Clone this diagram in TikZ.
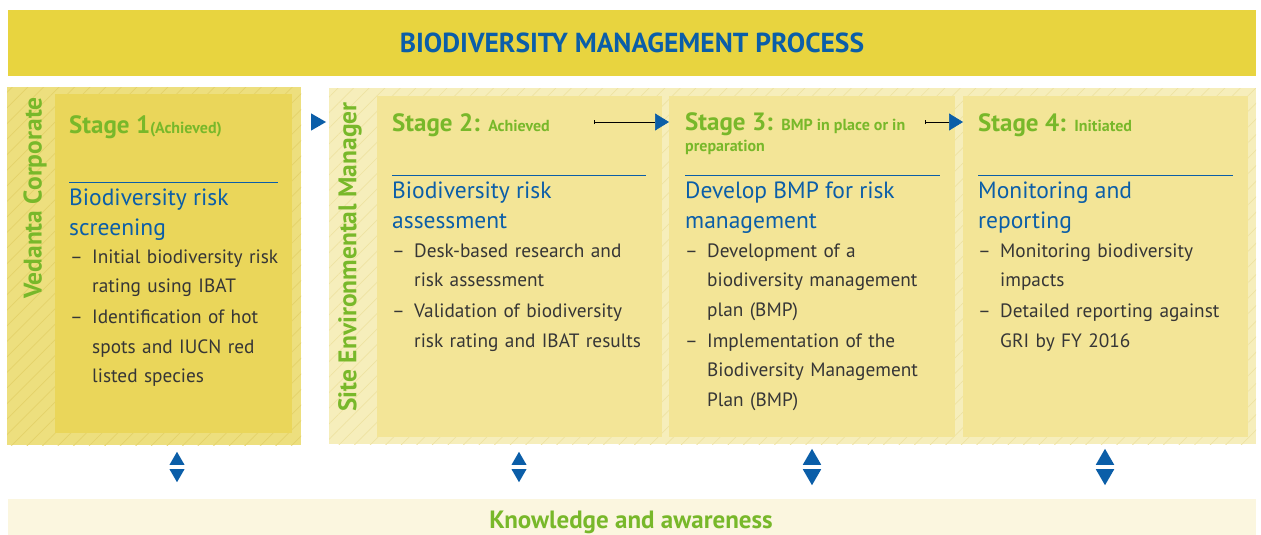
\documentclass[tikz,border=0pt]{standalone}
\usepackage{fontspec}
\setmainfont{PT Sans}
\usetikzlibrary{calc}
\usetikzlibrary{arrows.meta}
\usetikzlibrary{shapes.geometric}
\usetikzlibrary{patterns.meta}
\usetikzlibrary{positioning}
\definecolor{bannerfill}{HTML}{E8D43F}
\definecolor{corpfill}{HTML}{EDDF7E}
\definecolor{corphatch}{HTML}{E4D26A}
\definecolor{stageone}{HTML}{EAD65A}
\definecolor{sitefill}{HTML}{F6EEBB}
\definecolor{sitehatch}{HTML}{EEE2A2}
\definecolor{stagefill}{HTML}{F3E597}
\definecolor{bandfill}{HTML}{FBF6DF}
\definecolor{vblue}{HTML}{0B5EA8}
\definecolor{vgreen}{HTML}{78B82A}
\definecolor{bodytext}{HTML}{363636}
\tikzstyle{panel}=[inner sep=0pt, anchor=north west, outer sep=0pt]
\tikzstyle{hatch}=[pattern={Lines[angle=45, distance=11pt, line width=0.7pt]}]
\tikzstyle{title}=[anchor=base west, inner sep=0pt, text=vgreen, font={\fontsize{25}{24}\selectfont\bfseries}, align=left]
\tikzstyle{heading}=[anchor=base west, inner sep=0pt, text=vblue, font={\fontsize{23.5}{29.5}\selectfont}, align=left]
\tikzstyle{bullets}=[anchor=north west, inner sep=0pt, text=bodytext, text width=262pt, font={\fontsize{19.3}{29.5}\selectfont}]
\tikzstyle{role}=[rotate=90, inner sep=0pt, text=vgreen, font={\fontsize{25.5}{26}\selectfont\bfseries}]
\tikzstyle{rule}=[vblue, line width=0.8pt]
\tikzstyle{link}=[{Bar[width=4pt]}-{Triangle[width=17pt, length=14pt, color=vblue]}, line width=0.6pt, black]
\tikzstyle{marker}=[isosceles triangle, isosceles triangle apex angle=60, fill=vblue, inner sep=0pt, minimum height=#1]
\newcommand{\bitem}[1]{\hangindent=22pt\hangafter=1\noindent\makebox[22pt][l]{--}#1\par\vspace{1.5pt}}
\newcommand{\note}[1]{{\fontsize{16}{18}\selectfont #1}}

\begin{document}
\begin{tikzpicture}[x=1pt, y=-1pt]

    \useasboundingbox (0,0) rectangle (1261,535);

    % banner and panels
    \node[panel, fill=bannerfill, minimum width=1248pt, minimum height=66pt] (banner) at (8,10) {};
    \node[text=vblue, font={\fontsize{27.5}{28}\selectfont\bfseries}] (head) at (banner.center) {BIODIVERSITY MANAGEMENT PROCESS};

    \node[panel, fill=corpfill, minimum width=294pt, minimum height=358pt] (corp) at (7,87) {};
    \fill[hatch, pattern color=corphatch] (corp.north west) rectangle (corp.south east);
    \node[panel, fill=sitefill, minimum width=927pt, minimum height=356pt] (site) at (329,88) {};
    \fill[hatch, pattern color=sitehatch] (site.north west) rectangle (site.south east);

    \node[panel, fill=stageone, minimum width=237pt, minimum height=339pt] (s1) at (55,94) {};
    \node[panel, fill=stagefill, minimum width=285pt, minimum height=341pt] (s2) at (377,96) {};
    \node[panel, fill=stagefill, minimum width=286pt, minimum height=341pt] (s3) at (669,96) {};
    \node[panel, fill=stagefill, minimum width=285pt, minimum height=341pt] (s4) at (963,96) {};

    \node[panel, fill=bandfill, minimum width=1248pt, minimum height=40pt] (band) at (8,499) {};
    \node[anchor=base, inner sep=0pt, text=vgreen, font={\fontsize{25}{26}\selectfont\bfseries}] (know) at (631,528.5) {Knowledge and awareness};

    \node[role] (vedanta) at (35,198) {Vedanta Corporate};
    \node[role] (sitemgr) at (350,257) {Site Environmental Manager};

    % stage 1
    \node[title] (t1) at (69,133) {Stage 1\note{(Achieved)}};
    \draw[rule] (69,182) -- (278,182);
    \node[heading] (h1) at (69,235) {Biodiversity risk\\screening};
    \node[bullets] (b1) at (70,249.5) {%
        \bitem{Initial biodiversity risk\hfil\break rating using IBAT}%
        \bitem{Identification of hot\hfil\break spots and IUCN red\hfil\break listed species}};

    % stage 2
    \node[title] (t2) at (392,131) {Stage 2: \note{Achieved}};
    \draw[rule] (392,175) -- (646,175);
    \node[heading] (h2) at (392,228) {Biodiversity risk\\assessment};
    \node[bullets] (b2) at (392,243.5) {%
        \bitem{Desk-based research and\hfil\break risk assessment}%
        \bitem{Validation of biodiversity\hfil\break risk rating and IBAT results}};

    % stage 3
    \node[title] (t3) at (685,151) {Stage 3: \note{BMP in place or in}\\[-3pt]\note{preparation}};
    \draw[rule] (685,175) -- (940,175);
    \node[heading] (h3) at (685,228) {Develop BMP for risk\\management};
    \node[bullets] (b3) at (685,243.5) {%
        \bitem{Development of a\hfil\break biodiversity management\hfil\break plan (BMP)}%
        \bitem{Implementation of the\hfil\break Biodiversity Management\hfil\break Plan (BMP)}};

    % stage 4
    \node[title] (t4) at (978,131) {Stage 4: \note{Initiated}};
    \draw[rule] (978,175) -- (1233,175);
    \node[heading] (h4) at (978,228) {Monitoring and\\reporting};
    \node[bullets] (b4) at (978,243.5) {%
        \bitem{Monitoring biodiversity\hfil\break impacts}%
        \bitem{Detailed reporting against\hfil\break GRI by FY 2016}};

    % flow between stages
    \node[marker=15pt] (go) at (316,122) {};
    \coordinate (a23) at (594,122);
    \coordinate (a34) at (925,122);
    \draw[link] (a23) -- (a23 -| s3.west);
    \draw[link] (a34) -- (a34 -| s4.west);

    % links to knowledge and awareness
    \foreach \x/\s in {177/13, 519/13, 812/16, 1105/16} {
        \node[marker=\s pt, shape border rotate=90, anchor=lower side] at (\x,465) {};
        \node[marker=\s pt, shape border rotate=-90, anchor=lower side] at (\x,469) {};
    }

\end{tikzpicture}
\end{document}
